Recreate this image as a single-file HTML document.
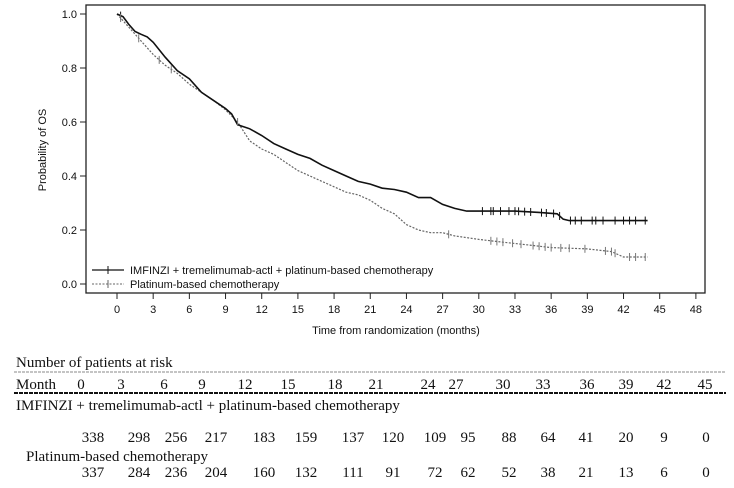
<!DOCTYPE html>
<html><head><meta charset="utf-8"><style>
body{margin:0;background:#fff;width:734px;height:488px;overflow:hidden}
svg{position:absolute;left:0;top:0}
.s{font-family:"Liberation Sans",sans-serif;font-size:11px;fill:#111}
.t{font-family:"Liberation Serif",serif;font-size:15px;fill:#111}
</style></head><body>
<svg width="734" height="488" viewBox="0 0 734 488">
<rect x="86" y="5" width="619" height="288" fill="none" stroke="#222" stroke-width="1.3"/>
<g stroke="#222" stroke-width="1">
<line x1="80" y1="14" x2="86" y2="14"/><line x1="80" y1="68" x2="86" y2="68"/><line x1="80" y1="122" x2="86" y2="122"/><line x1="80" y1="176" x2="86" y2="176"/><line x1="80" y1="230" x2="86" y2="230"/><line x1="80" y1="284" x2="86" y2="284"/>
</g>
<g class="s" text-anchor="end">
<text x="77" y="18">1.0</text><text x="77" y="72">0.8</text><text x="77" y="126">0.6</text><text x="77" y="180">0.4</text><text x="77" y="234">0.2</text><text x="77" y="288">0.0</text>
</g>
<text class="s" transform="translate(46,150) rotate(-90)" text-anchor="middle">Probability of OS</text>
<g stroke="#222" stroke-width="1" id="xt"></g>
<g class="s" text-anchor="middle" id="xl"></g>
<text class="s" x="396" y="334" text-anchor="middle">Time from randomization (months)</text>
<polyline id="p2" fill="none" stroke="#666" stroke-width="1.2" stroke-dasharray="2,1.5"/>
<polyline id="p1" fill="none" stroke="#111" stroke-width="1.6"/>
<g id="c1" stroke="#111" stroke-width="1"></g>
<g id="c2" stroke="#777" stroke-width="1"></g>
<line x1="92" y1="270" x2="124" y2="270" stroke="#111" stroke-width="1.3"/><line x1="108" y1="266" x2="108" y2="274" stroke="#111"/>
<line x1="92" y1="284" x2="124" y2="284" stroke="#666" stroke-dasharray="2,1.5"/><line x1="108" y1="280" x2="108" y2="288" stroke="#666"/>
<text class="s" x="130" y="274">IMFINZI + tremelimumab-actl + platinum-based chemotherapy</text>
<text class="s" x="130" y="288">Platinum-based chemotherapy</text>

<text class="t" x="16" y="367">Number of patients at risk</text>
<line x1="14" y1="372" x2="726" y2="372" stroke="#888" stroke-dasharray="3,1"/>
<text class="t" x="16" y="389">Month</text>
<g class="t" text-anchor="middle" id="mr"></g>
<line x1="14" y1="393" x2="726" y2="393" stroke="#111" stroke-width="2" stroke-dasharray="4,1"/>
<text class="t" x="16" y="410">IMFINZI + tremelimumab-actl + platinum-based chemotherapy</text>
<g class="t" text-anchor="middle" id="r1"></g>
<text class="t" x="26" y="461">Platinum-based chemotherapy</text>
<g class="t" text-anchor="middle" id="r2"></g>
</svg>
<script>
const X=m=>117+m*12.06,Y=p=>284-p*270;
let xt='',xl='';for(let m=0;m<=48;m+=3){xt+=`<line x1="${X(m)}" y1="293" x2="${X(m)}" y2="299"/>`;xl+=`<text x="${X(m)}" y="313">${m}</text>`;}
document.getElementById('xt').innerHTML=xt;document.getElementById('xl').innerHTML=xl;
const s1=[[0,1],[0.5,0.99],[1,0.96],[1.5,0.935],[2,0.925],[2.5,0.915],[3,0.895],[4,0.84],[5,0.79],[6,0.76],[7,0.71],[8,0.68],[9,0.65],[9.5,0.63],[10,0.59],[11,0.575],[12,0.55],[13,0.52],[14,0.5],[15,0.48],[16,0.465],[17,0.44],[18,0.42],[19,0.4],[20,0.38],[21,0.37],[22,0.355],[23,0.35],[24,0.34],[25,0.32],[26,0.32],[27,0.295],[28,0.28],[29,0.27],[33,0.27],[35,0.265],[36.5,0.26],[37,0.24],[37.5,0.235],[44,0.235]];
const s2=[[0,1],[1,0.95],[2,0.9],[3,0.85],[4,0.81],[5,0.78],[6,0.74],[7,0.71],[8,0.68],[9,0.645],[10,0.6],[11,0.53],[12,0.5],[13,0.48],[14,0.45],[15,0.42],[16,0.4],[17,0.38],[18,0.36],[19,0.34],[20,0.33],[21,0.31],[22,0.28],[23,0.26],[24,0.22],[25,0.2],[26,0.19],[27,0.19],[28,0.178],[30,0.165],[32,0.155],[34,0.145],[36,0.135],[39,0.13],[41,0.12],[42,0.1],[44,0.1]];
const pts=a=>a.map(p=>X(p[0]).toFixed(1)+','+Y(p[1]).toFixed(1)).join(' ');
document.getElementById('p1').setAttribute('points',pts(s1));document.getElementById('p2').setAttribute('points',pts(s2));
const interp=(a,m)=>{for(let i=1;i<a.length;i++)if(a[i][0]>=m){const[p,q]=[a[i-1],a[i]];return p[1]+(q[1]-p[1])*(m-p[0])/(q[0]-p[0]);}return a[a.length-1][1];};
const cm=(a,ms)=>ms.map(m=>{const x=X(m),y=Y(interp(a,m));return `<line x1="${x}" y1="${y-4}" x2="${x}" y2="${y+4}"/>`}).join('');
document.getElementById('c1').innerHTML=cm(s1,[0.3,30.3,31,31.2,31.8,32.5,33,33.3,33.8,34.3,35.2,35.6,36.2,36.7,37.6,38,38.5,39.4,39.7,40.3,41.3,42,42.5,43,43.8]);
document.getElementById('c2').innerHTML=cm(s2,[0.3,1.8,3.5,4.5,10,27.5,31,31.5,32,32.8,33.5,34.5,35,35.5,36,36.8,37.5,38.8,40.5,41,41.3,42.5,43,43.8]);
const mx=[81,121,164,202,245,288,335,376,428,456,503,543,587,626,664,705];
const ms=[0,3,6,9,12,15,18,21,24,27,30,33,36,39,42,45];
const v1=[338,298,256,217,183,159,137,120,109,95,88,64,41,20,9,0],v2=[337,284,236,204,160,132,111,91,72,62,52,38,21,13,6,0];
const nx=[93,139,176,216,264,306,353,393,435,468,509,548,586,626,664,706];
document.getElementById('mr').innerHTML=ms.map((m,i)=>`<text x="${mx[i]}" y="389">${m}</text>`).join('');
document.getElementById('r1').innerHTML=v1.map((v,i)=>`<text x="${nx[i]}" y="442">${v}</text>`).join('');
document.getElementById('r2').innerHTML=v2.map((v,i)=>`<text x="${nx[i]}" y="477">${v}</text>`).join('');
</script>
</body></html>
